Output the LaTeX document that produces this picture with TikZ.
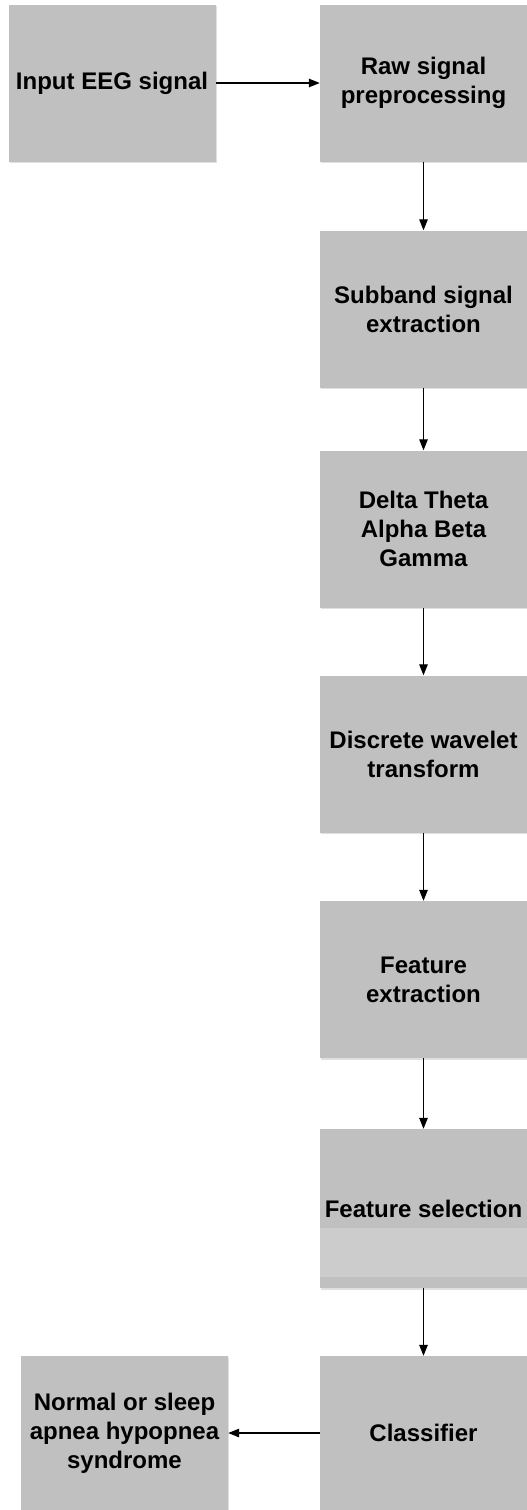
\documentclass[tikz,border=0pt]{standalone}
\usepackage{fontspec}
\setmainfont{Liberation Sans}
\usetikzlibrary{arrows.meta,calc,shadows}
\definecolor{boxgrey}{HTML}{C0C0C0}
\definecolor{bandgrey}{HTML}{CCCCCC}
\begin{document}
\begin{tikzpicture}[x=1pt,y=1pt,
  blk/.style={rectangle, fill=boxgrey, inner sep=0pt, align=center,
    minimum width=207pt, minimum height=157pt,
    font=\fontsize{24}{29}\selectfont\bfseries,
    drop shadow={shadow xshift=1pt, shadow yshift=-1.5pt, fill=black!12, opacity=1}},
  conn/.style={line width=1.3pt, -{Triangle[length=11pt,width=8.5pt]}}]
\useasboundingbox (0,0) rectangle (527,-1510);
\fill[white] (0,0) rectangle (527,-1510);
\node[blk] (in)  at (112,-83) {Input EEG signal};
\node[blk] (raw) at (423.5,-83) {Raw signal\\preprocessing};
\node[blk] (sub) at (423.5,-309) {Subband signal\\extraction};
\node[blk] (dtab) at (423.5,-529) {Delta Theta\\Alpha Beta\\Gamma};
\node[blk] (dwt) at (423.5,-754) {Discrete wavelet\\transform};
\node[blk] (fe)  at (423.5,-979.5) {Feature\\extraction};
\node[blk, minimum height=159pt] (fs)  at (423.5,-1208.5) {Feature selection};
\fill[bandgrey] ($(fs.south west)+(0,11)$) rectangle ($(fs.south east)+(0,60)$);
\node[blk, minimum height=154pt] (cls) at (423.5,-1433) {Classifier};
\node[blk, minimum height=154pt] (out) at (124.5,-1433) {Normal or sleep\\apnea hypopnea\\syndrome};
\draw[conn] (in.east) -- (raw.west);
\draw[conn] (raw.south) -- (sub.north);
\draw[conn] (sub.south) -- (dtab.north);
\draw[conn] (dtab.south) -- (dwt.north);
\draw[conn] (dwt.south) -- (fe.north);
\draw[conn] (fe.south) -- (fs.north);
\draw[conn] (fs.south) -- (cls.north);
\draw[conn] (cls.west) -- (out.east);
\end{tikzpicture}
\end{document}
